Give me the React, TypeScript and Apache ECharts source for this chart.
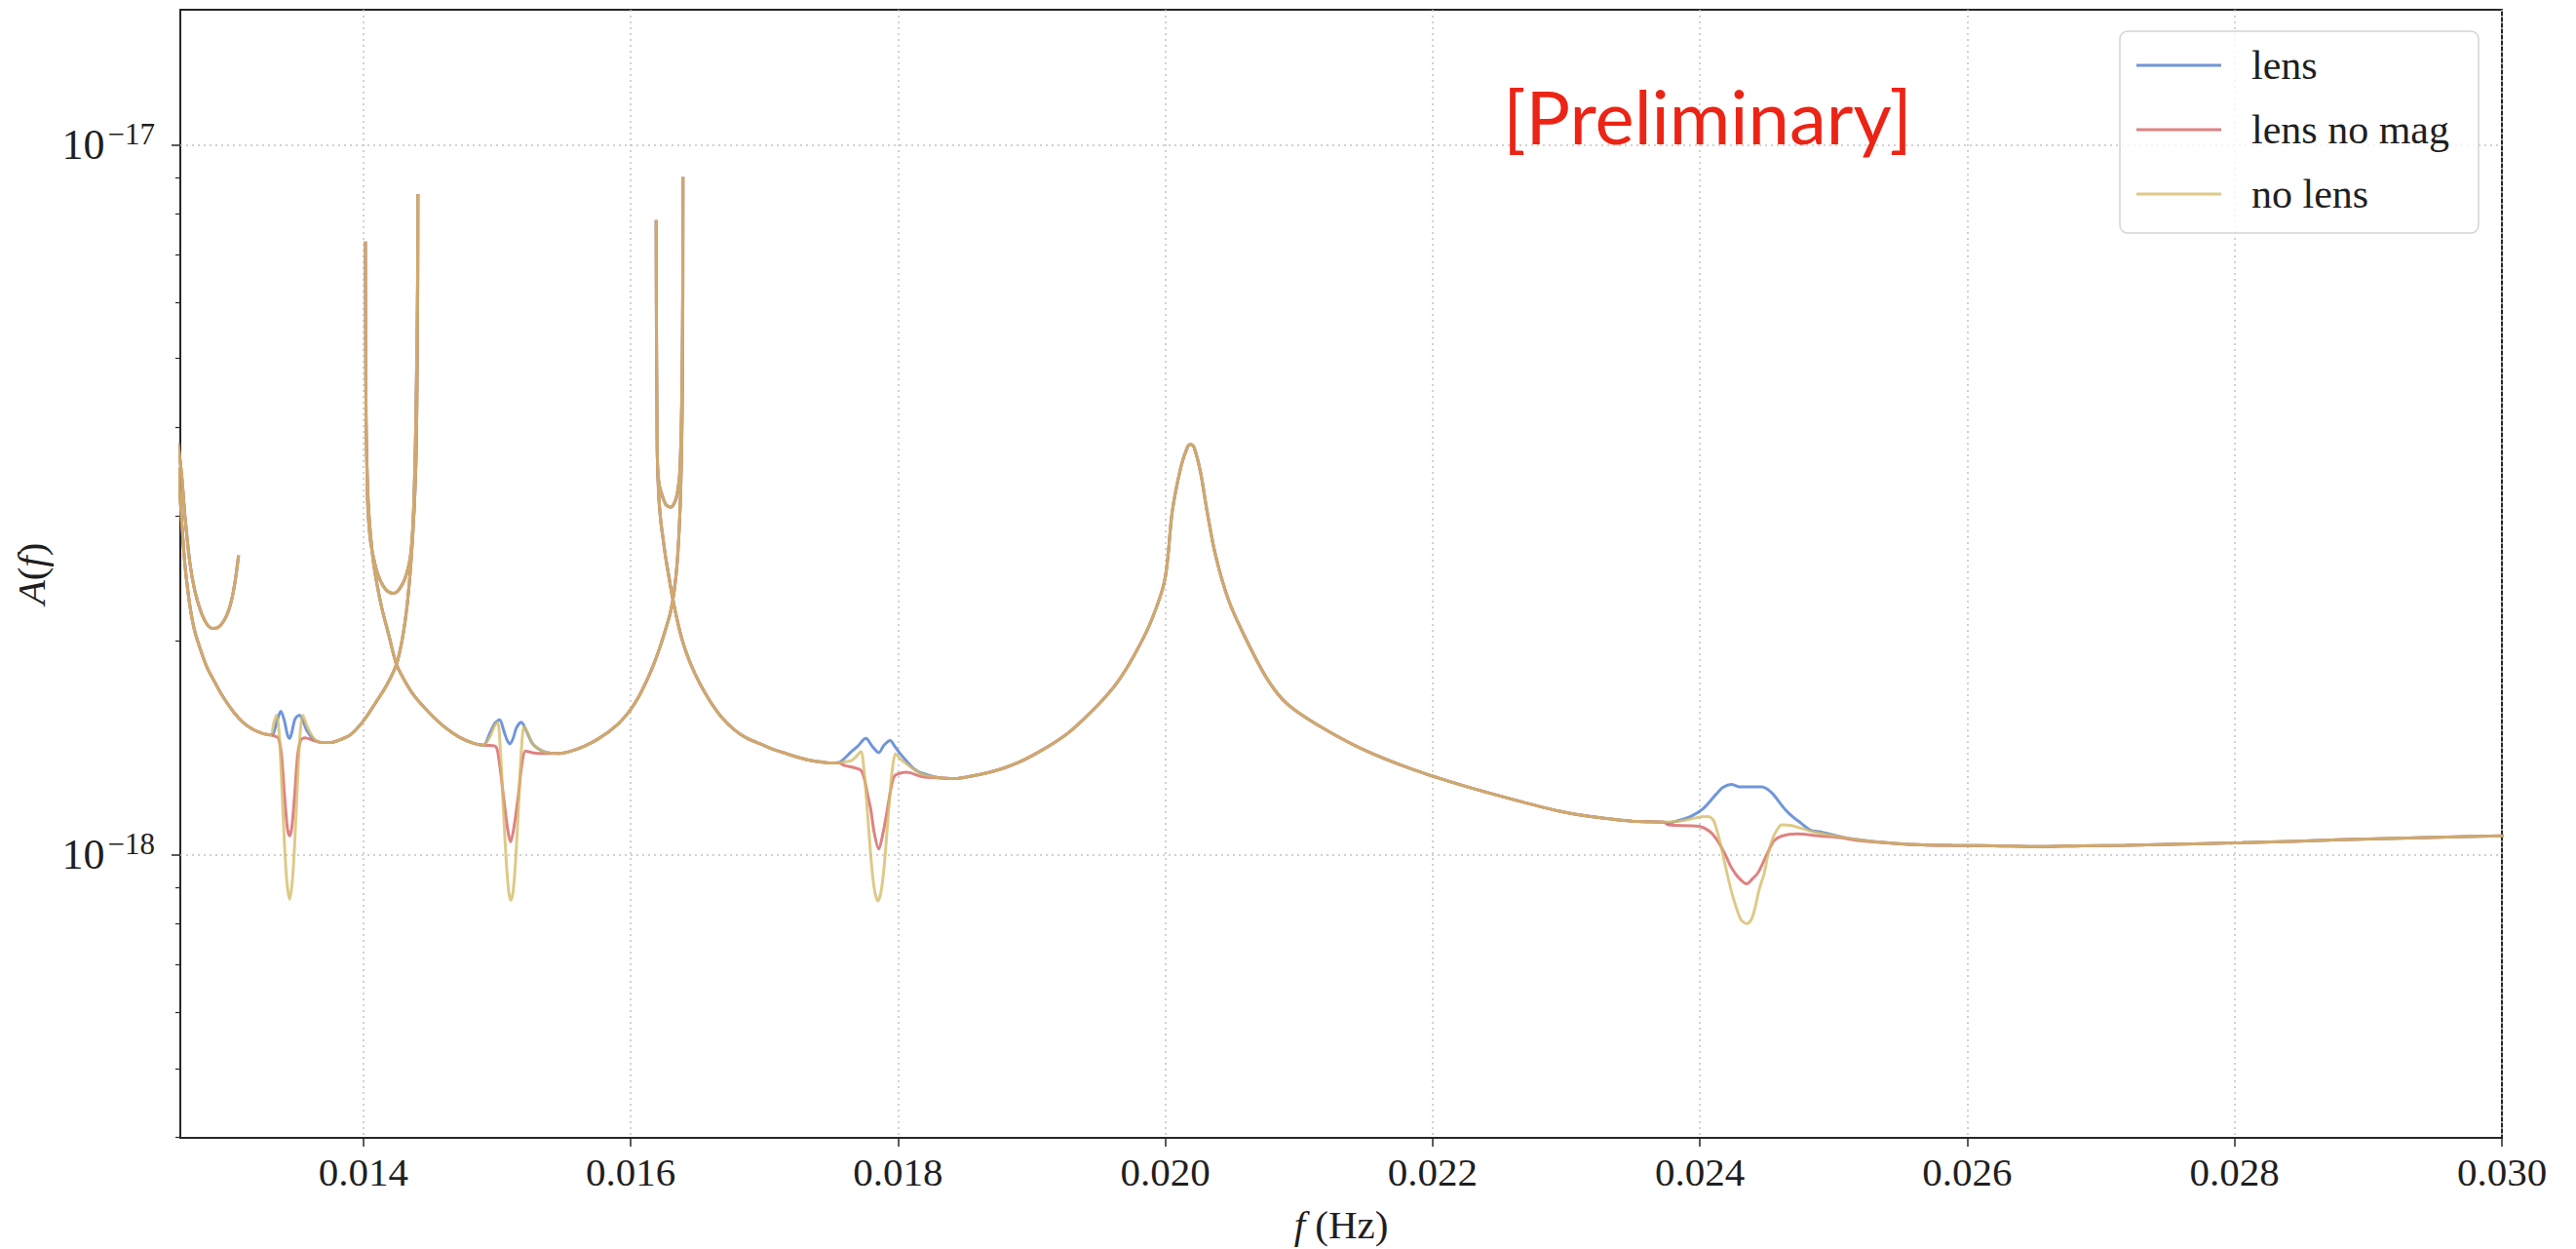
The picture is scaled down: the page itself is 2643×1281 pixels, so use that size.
import React, { useEffect, useRef } from 'react';
import * as echarts from 'echarts';

type Pt = [number, number];

// Frequencies in Hz; amplitudes in units of AMP_UNIT.
const AMP_UNIT = 1e-18;

const X_MIN = 0.01263;
const X_MAX = 0.03;
const Y_MIN = 3.995e-19;
const Y_MAX = 1.549e-17;

const X_TICKS = [0.014, 0.016, 0.018, 0.02, 0.022, 0.024, 0.026, 0.028, 0.03];
const Y_MAJOR_TICKS = [1e-18, 1e-17];
const Y_MINOR_TICKS = [
  4e-19, 5e-19, 6e-19, 7e-19, 8e-19, 9e-19,
  2e-18, 3e-18, 4e-18, 5e-18, 6e-18, 7e-18, 8e-18, 9e-18,
];

const SERIES_NAMES = ['lens', 'lens no mag', 'no lens'];
const SERIES_COLORS = ['#4878d0', '#d65f5f', '#d5bb67'];

// Short branch entering from the low-frequency edge
const lowEdgeArc: Pt[] = [
  [0.012614, 3.8], [0.012643, 3.379], [0.012665, 2.997], [0.012702, 2.575], [0.012738, 2.357],
  [0.012782, 2.206], [0.012826, 2.117], [0.012869, 2.084], [0.012913, 2.09], [0.012957, 2.137],
  [0.012993, 2.213], [0.013023, 2.328], [0.013045, 2.464], [0.013066, 2.641],
];

// Main track, first branch down to the feature near 0.01345 Hz
const branch1Head: Pt[] = [
  [0.012614, 3.51], [0.012643, 2.904], [0.012665, 2.559], [0.012702, 2.241], [0.012738, 2.065],
  [0.012789, 1.926], [0.012833, 1.831], [0.012899, 1.735], [0.012957, 1.661], [0.01303, 1.588],
  [0.013103, 1.534], [0.013176, 1.501], [0.013249, 1.482], [0.013307, 1.475],
];

const dip1Lens: Pt[] = [
  [0.013329, 1.487], [0.013354, 1.544], [0.013382, 1.593], [0.013409, 1.544], [0.013431, 1.477],
  [0.013448, 1.459], [0.013464, 1.487], [0.013489, 1.554], [0.013521, 1.573], [0.013548, 1.544],
  [0.013577, 1.496], [0.013628, 1.454], [0.013686, 1.44],
];
const dip1NoMag: Pt[] = [
  [0.013344, 1.468], [0.013365, 1.459], [0.013387, 1.382], [0.013409, 1.218], [0.013431, 1.091],
  [0.013448, 1.064], [0.013464, 1.091], [0.013486, 1.218], [0.013508, 1.382], [0.01353, 1.449],
  [0.013562, 1.461], [0.013628, 1.449], [0.013686, 1.44],
];
const dip1NoLens: Pt[] = [
  [0.013329, 1.534], [0.013351, 1.573], [0.013369, 1.487], [0.013387, 1.277], [0.013409, 1.04],
  [0.013427, 0.917], [0.013448, 0.866], [0.013468, 0.917], [0.013486, 1.04], [0.013508, 1.277],
  [0.013527, 1.487], [0.013546, 1.573], [0.013577, 1.52], [0.013628, 1.459], [0.013686, 1.44],
];

// Rise to the turning point at 0.01441 Hz
const branch1Rise: Pt[] = [
  [0.013759, 1.44], [0.013832, 1.454], [0.013905, 1.477], [0.014, 1.544], [0.014088, 1.634],
  [0.014175, 1.735], [0.014248, 1.857], [0.014292, 2.019], [0.014328, 2.255], [0.014357, 2.6],
  [0.014379, 3.045], [0.014394, 3.622], [0.014401, 4.519], [0.014406, 6.197], [0.014408, 8.525],
];

// Back from 0.01441 Hz to the turning point at 0.01402 Hz
const loop1: Pt[] = [
  [0.014406, 6.601], [0.014401, 5.292], [0.01439, 3.858], [0.014379, 3.192], [0.014368, 2.858],
  [0.014357, 2.683], [0.014343, 2.575], [0.014321, 2.48], [0.014294, 2.41], [0.014255, 2.35],
  [0.014221, 2.335], [0.014182, 2.35], [0.014148, 2.391], [0.014109, 2.48], [0.014075, 2.625],
  [0.014051, 2.787], [0.014033, 3.093], [0.014026, 3.51], [0.01402, 4.11], [0.014017, 5.292],
  [0.014015, 7.303],
];

// Second branch down to the feature near 0.01510 Hz
const branch2Head: Pt[] = [
  [0.014017, 5.292], [0.01402, 4.11], [0.014026, 3.566], [0.014036, 3.142], [0.014051, 2.858],
  [0.014073, 2.6], [0.014102, 2.402], [0.014139, 2.22], [0.01419, 2.039], [0.014246, 1.857],
  [0.014306, 1.763], [0.014379, 1.676], [0.014489, 1.588], [0.014605, 1.515], [0.014722, 1.463],
  [0.014824, 1.436],
];

const dip2Lens: Pt[] = [
  [0.014897, 1.427], [0.01495, 1.49], [0.014985, 1.534], [0.015019, 1.549], [0.01505, 1.496],
  [0.015076, 1.449], [0.015096, 1.433], [0.01512, 1.459], [0.015145, 1.51], [0.015182, 1.537],
  [0.015218, 1.496], [0.015267, 1.433], [0.01534, 1.4], [0.0154, 1.391],
];
const dip2NoMag: Pt[] = [
  [0.014902, 1.427], [0.014987, 1.422], [0.015014, 1.361], [0.015048, 1.208], [0.01508, 1.084],
  [0.015101, 1.043], [0.015123, 1.084], [0.015158, 1.208], [0.015185, 1.339], [0.015213, 1.4],
  [0.015262, 1.393], [0.01534, 1.389], [0.0154, 1.389],
];
const dip2NoLens: Pt[] = [
  [0.014897, 1.427], [0.014948, 1.468], [0.014981, 1.52], [0.015004, 1.537], [0.015025, 1.404],
  [0.015047, 1.162], [0.015069, 0.977], [0.015087, 0.888], [0.015103, 0.863], [0.01512, 0.888],
  [0.015138, 0.977], [0.01516, 1.162], [0.015182, 1.404], [0.015202, 1.515], [0.015225, 1.491],
  [0.015267, 1.433], [0.01534, 1.4], [0.0154, 1.391],
];

// Rise to the turning point at 0.01639 Hz
const branch2Rise: Pt[] = [
  [0.015461, 1.389], [0.015607, 1.411], [0.015753, 1.455], [0.015899, 1.525], [0.015996, 1.599],
  [0.016057, 1.666], [0.016115, 1.752], [0.016166, 1.843], [0.016217, 1.957], [0.016263, 2.084],
  [0.016298, 2.199], [0.016327, 2.365], [0.016349, 2.6], [0.016367, 2.997], [0.016378, 3.51],
  [0.016385, 4.242], [0.016389, 5.637], [0.01639, 7.031], [0.016391, 9.007],
];

// Back from 0.01639 Hz to the turning point at 0.01619 Hz
const loop2: Pt[] = [
  [0.016389, 6.197], [0.016385, 4.813], [0.016378, 3.982], [0.016367, 3.455], [0.016356, 3.295],
  [0.016336, 3.162], [0.0163, 3.088], [0.016263, 3.113], [0.016227, 3.243], [0.01621, 3.347],
  [0.016199, 3.622], [0.016196, 4.242], [0.016192, 5.637], [0.01619, 7.833],
];

// Third branch down to the feature near 0.01785 Hz
const branch3Head: Pt[] = [
  [0.016192, 5.637], [0.016196, 4.242], [0.016199, 3.622], [0.01621, 3.192], [0.016225, 2.95],
  [0.016239, 2.813], [0.016261, 2.625], [0.016288, 2.448], [0.016312, 2.306], [0.016349, 2.137],
  [0.016385, 2.007], [0.016429, 1.896], [0.016482, 1.797], [0.016538, 1.714], [0.016604, 1.634],
  [0.016684, 1.559], [0.016774, 1.501], [0.016867, 1.461], [0.016969, 1.433], [0.017063, 1.409],
  [0.017163, 1.389], [0.01726, 1.371], [0.017357, 1.357], [0.017443, 1.35], [0.017503, 1.347],
];

const dip3Lens: Pt[] = [
  [0.017552, 1.348], [0.017601, 1.368], [0.017647, 1.395], [0.017698, 1.422], [0.017759, 1.459],
  [0.017807, 1.422], [0.017856, 1.393], [0.017895, 1.427], [0.017941, 1.449], [0.017975, 1.422],
  [0.018014, 1.39], [0.018063, 1.356], [0.018112, 1.325], [0.018158, 1.308], [0.018209, 1.298],
  [0.018306, 1.284],
];
const dip3NoMag: Pt[] = [
  [0.017552, 1.348], [0.017601, 1.336], [0.017669, 1.327], [0.017722, 1.316], [0.017749, 1.277],
  [0.017771, 1.218], [0.017795, 1.162], [0.017822, 1.074], [0.017856, 1.019], [0.017888, 1.074],
  [0.017917, 1.15], [0.017946, 1.238], [0.017968, 1.286], [0.01799, 1.298], [0.018063, 1.307],
  [0.018185, 1.288], [0.018306, 1.284],
];
const dip3NoLens: Pt[] = [
  [0.017552, 1.348], [0.017649, 1.357], [0.017691, 1.378], [0.017722, 1.398], [0.017745, 1.318],
  [0.017771, 1.151], [0.017797, 0.992], [0.017822, 0.897], [0.017849, 0.861], [0.017877, 0.897],
  [0.017902, 0.992], [0.017929, 1.151], [0.017957, 1.318], [0.017979, 1.387], [0.01799, 1.382],
  [0.018034, 1.356], [0.018087, 1.332], [0.018136, 1.314], [0.018185, 1.298], [0.018306, 1.284],
];

// Broad maximum at 0.0202 Hz and the decline after it
const peakSection: Pt[] = [
  [0.018427, 1.281], [0.018549, 1.291], [0.01867, 1.305], [0.018792, 1.325], [0.018914, 1.353],
  [0.019035, 1.39], [0.019157, 1.434], [0.019279, 1.488], [0.0194, 1.56], [0.019522, 1.645],
  [0.019643, 1.752], [0.019764, 1.906], [0.019886, 2.117], [0.019996, 2.441], [0.020052, 3.047],
  [0.020117, 3.522], [0.020166, 3.753], [0.020188, 3.786], [0.020214, 3.753], [0.020263, 3.459],
  [0.020312, 3.047], [0.020377, 2.635], [0.020475, 2.279], [0.020606, 2.008], [0.020762, 1.769],
  [0.020907, 1.634], [0.021126, 1.529], [0.021491, 1.404], [0.021856, 1.318], [0.02222, 1.253],
  [0.022585, 1.199], [0.02295, 1.152], [0.023145, 1.135], [0.023341, 1.123], [0.023536, 1.114],
  [0.02373, 1.112],
];

const dip4Lens: Pt[] = [
  [0.023764, 1.108], [0.023829, 1.116], [0.023927, 1.132], [0.024024, 1.162], [0.024122, 1.218],
  [0.024175, 1.246], [0.024236, 1.257], [0.024292, 1.247], [0.02435, 1.247], [0.024409, 1.247],
  [0.024464, 1.247], [0.024503, 1.238], [0.024546, 1.218], [0.024591, 1.188], [0.024642, 1.156],
  [0.0247, 1.129], [0.024757, 1.108], [0.024824, 1.084], [0.024904, 1.077], [0.025066, 1.059],
  [0.025229, 1.048], [0.025392, 1.04],
];
const dip4NoMag: Pt[] = [
  [0.023764, 1.102], [0.023992, 1.097], [0.024073, 1.079], [0.024131, 1.047], [0.024187, 1.003],
  [0.024233, 0.961], [0.024284, 0.931], [0.02435, 0.91], [0.024394, 0.926], [0.02443, 0.941],
  [0.024474, 0.977], [0.024513, 1.013], [0.024554, 1.047], [0.024611, 1.063], [0.024724, 1.07],
  [0.024904, 1.063], [0.025065, 1.057], [0.025164, 1.049], [0.025392, 1.04],
];
const dip4NoLens: Pt[] = [
  [0.023829, 1.115], [0.023927, 1.123], [0.024007, 1.131], [0.024057, 1.132], [0.02408, 1.129],
  [0.024106, 1.114], [0.024146, 1.05], [0.024187, 0.971], [0.024226, 0.902], [0.024268, 0.847],
  [0.024306, 0.811], [0.02435, 0.8], [0.024387, 0.813], [0.024415, 0.847], [0.024445, 0.897],
  [0.02448, 0.941], [0.024511, 1.005], [0.024546, 1.057], [0.024576, 1.084], [0.024611, 1.102],
  [0.024656, 1.101], [0.024708, 1.097], [0.024838, 1.079], [0.025066, 1.059], [0.025229, 1.048],
  [0.025392, 1.04],
];

// High-frequency tail
const tail: Pt[] = [
  [0.025554, 1.035], [0.025882, 1.031], [0.026203, 1.03], [0.026531, 1.027], [0.026859, 1.03],
  [0.02718, 1.031], [0.027508, 1.035], [0.028055, 1.04], [0.028785, 1.05], [0.029514, 1.059],
  [0.030025, 1.064],
];

const FEATURES: Pt[][][] = [
  [dip1Lens, dip2Lens, dip3Lens, dip4Lens],
  [dip1NoMag, dip2NoMag, dip3NoMag, dip4NoMag],
  [dip1NoLens, dip2NoLens, dip3NoLens, dip4NoLens],
];

const FONT = 'Liberation Serif';
const INK = '#1f1f1f';

function buildTrack(d: Pt[][]) {
  const scale = (pts: Pt[]) => pts.map(([f, a]) => [f, a * AMP_UNIT]);
  return [
    ...scale(lowEdgeArc),
    ['-', '-'],
    ...scale([
      ...branch1Head, ...d[0], ...branch1Rise, ...loop1,
      ...branch2Head, ...d[1], ...branch2Rise, ...loop2,
      ...branch3Head, ...d[2], ...peakSection, ...d[3], ...tail,
    ]),
  ];
}

function buildOption() {
  const series = SERIES_NAMES.map((name, i) => ({
    name,
    type: 'line',
    data: buildTrack(FEATURES[i]),
    symbol: 'none',
    showSymbol: false,
    smooth: 0.3,
    connectNulls: false,
    clip: true,
    silent: true,
    z: 2 + i,
    lineStyle: { color: SERIES_COLORS[i], width: 3, opacity: 0.78 },
    itemStyle: { color: SERIES_COLORS[i], opacity: 0.78 },
    emphasis: { disabled: true },
  }));

  return {
    animation: false,
    backgroundColor: '#ffffff',
    textStyle: { fontFamily: FONT },
    grid: {
      left: 185,
      right: 76,
      top: 10,
      bottom: 113,
      show: true,
      borderColor: '#262626',
      borderWidth: 2,
      backgroundColor: 'transparent',
    },
    legend: {
      orient: 'vertical',
      left: 2175,
      top: 32,
      data: SERIES_NAMES,
      icon: 'rect',
      itemWidth: 87,
      itemHeight: 3,
      itemGap: 24,
      padding: [14, 30, 19, 17],
      backgroundColor: 'rgba(255,255,255,0.8)',
      borderColor: '#d4d4d4',
      borderWidth: 1.5,
      borderRadius: 8,
      selectedMode: false,
      textStyle: {
        fontFamily: FONT,
        fontSize: 42,
        lineHeight: 40,
        color: INK,
        padding: [0, 0, 0, 26],
      },
    },
    xAxis: {
      type: 'value',
      min: X_MIN,
      max: X_MAX,
      axisLine: { show: false },
      axisTick: {
        show: true,
        customValues: X_TICKS,
        length: 9,
        lineStyle: { color: '#262626', width: 1.5 },
      },
      axisLabel: {
        customValues: X_TICKS,
        formatter: (v: number) => v.toFixed(3),
        fontFamily: FONT,
        fontSize: 41,
        color: INK,
        margin: 14,
      },
      splitLine: {
        show: true,
        lineStyle: { color: '#c2c2c2', width: 1.5, type: [2, 4] },
      },
      name: '{i|f} (Hz)',
      nameLocation: 'middle',
      nameGap: 68,
      nameTextStyle: {
        fontFamily: FONT,
        fontSize: 41,
        color: INK,
        rich: { i: { fontFamily: FONT, fontSize: 41, fontStyle: 'italic', color: INK } },
      },
    },
    yAxis: [
      {
        type: 'log',
        logBase: 10,
        min: Y_MIN,
        max: Y_MAX,
        axisLine: { show: false },
        axisTick: {
          show: true,
          customValues: Y_MAJOR_TICKS,
          length: 9,
          lineStyle: { color: '#262626', width: 1.5 },
        },
        axisLabel: {
          customValues: Y_MAJOR_TICKS,
          formatter: (v: number) => `{b|10}{s|\u2212${Math.round(-Math.log10(v))}}`,
          margin: 26,
          rich: {
            b: { fontFamily: FONT, fontSize: 44, color: INK },
            s: { fontFamily: FONT, fontSize: 31, color: INK, padding: [0, 0, 22, 3] },
          },
        },
        splitLine: {
          show: true,
          lineStyle: { color: '#c2c2c2', width: 1.5, type: [2, 4] },
        },
        name: '{i|A}({i|f})',
        nameLocation: 'middle',
        nameRotate: 90,
        nameGap: 132,
        nameTextStyle: {
          fontFamily: FONT,
          fontSize: 41,
          color: INK,
          rich: { i: { fontFamily: FONT, fontSize: 41, fontStyle: 'italic', color: INK } },
        },
      },
      {
        type: 'log',
        logBase: 10,
        min: Y_MIN,
        max: Y_MAX,
        position: 'left',
        offset: 0,
        axisLine: { show: false },
        axisLabel: { show: false },
        splitLine: { show: false },
        axisTick: {
          show: true,
          customValues: Y_MINOR_TICKS,
          length: 5,
          lineStyle: { color: '#262626', width: 1.2 },
        },
      },
    ],
    graphic: [
      {
        type: 'text',
        x: 1752,
        y: 118,
        z: 100,
        silent: true,
        style: {
          text: '[Preliminary]',
          fill: '#ec2415',
          fontFamily: 'Lato',
          fontSize: 76,
          align: 'center',
          verticalAlign: 'middle',
          textAlign: 'center',
          textVerticalAlign: 'middle',
        },
      },
    ],
    series,
  };
}

export default function App() {
  const ref = useRef<HTMLDivElement>(null);

  useEffect(() => {
    if (!ref.current) return;
    const chart = echarts.init(ref.current, null, { renderer: 'svg' });
    chart.setOption(buildOption() as any);
    return () => chart.dispose();
  }, []);

  return (
    <div
      ref={ref}
      style={{
        position: 'fixed',
        left: 0,
        top: 0,
        width: '2643px',
        height: '1281px',
        background: '#ffffff',
      }}
    />
  );
}
